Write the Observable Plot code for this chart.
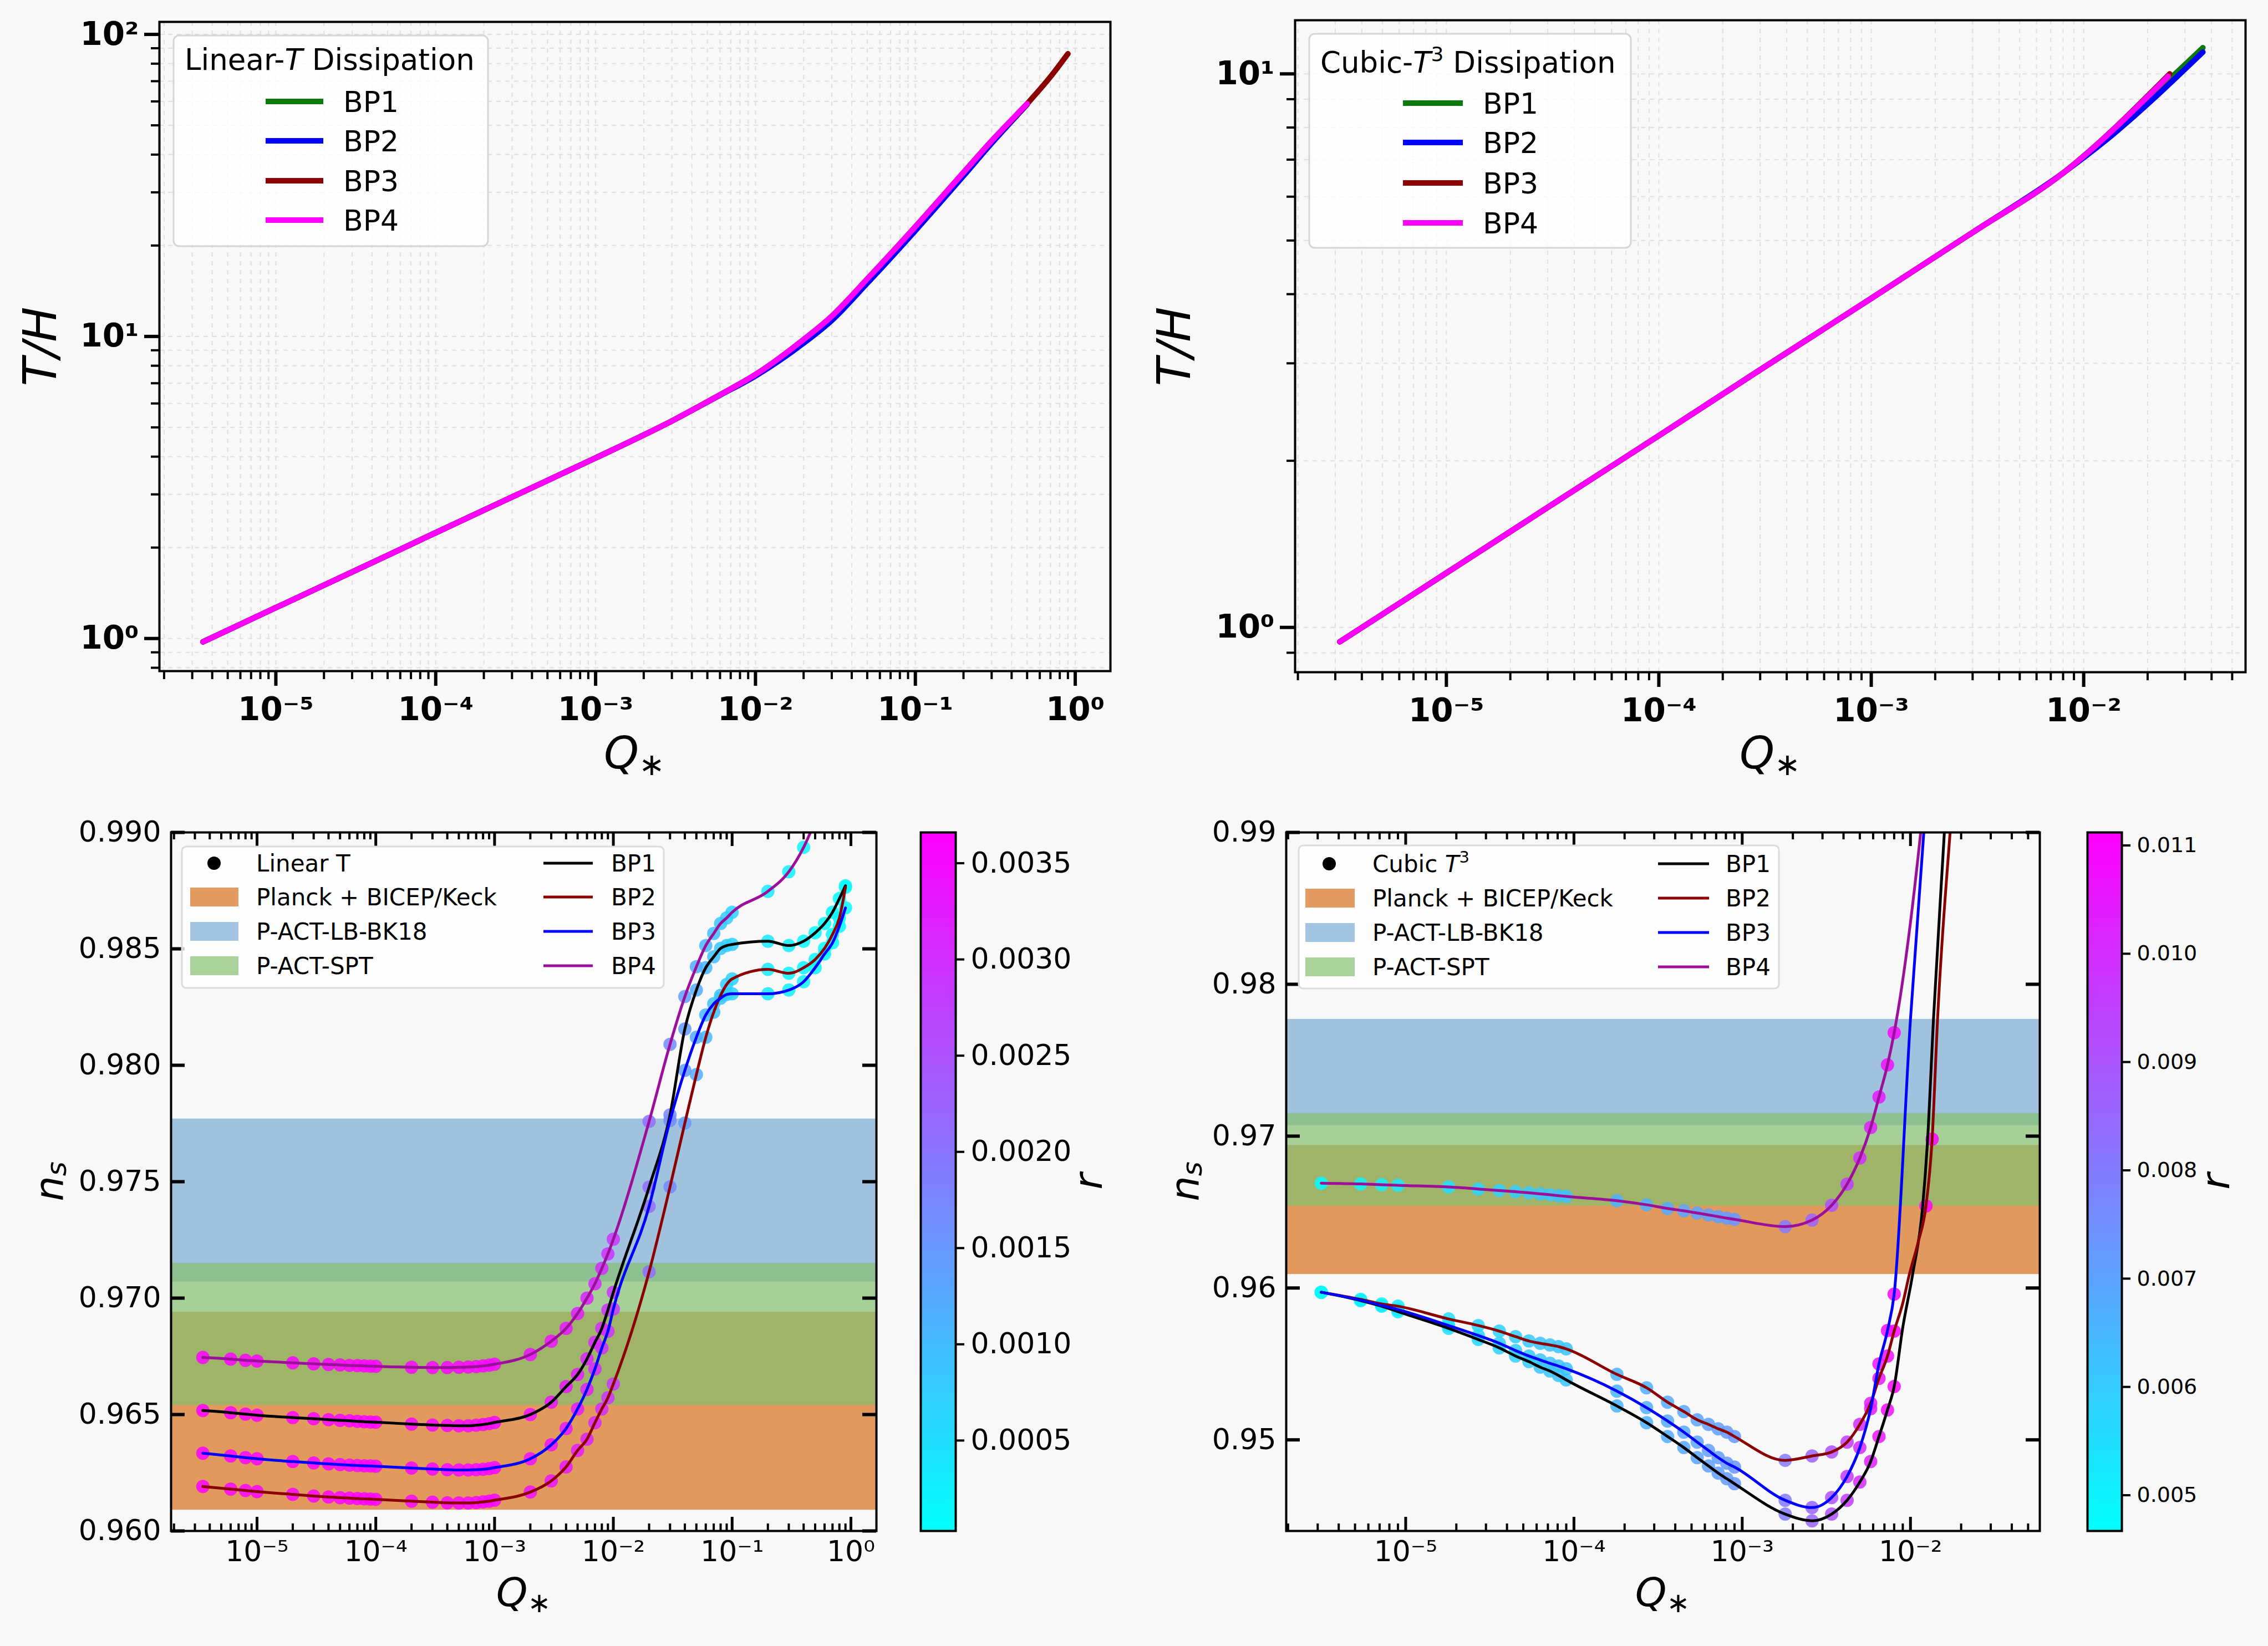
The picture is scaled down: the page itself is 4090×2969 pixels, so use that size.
<!DOCTYPE html>
<html><head><meta charset="utf-8">
<script src="https://cdn.jsdelivr.net/npm/d3@7"></script>
<script src="https://cdn.jsdelivr.net/npm/@observablehq/plot@0.6"></script>
<style>
html,body{margin:0;padding:0;background:#f8f8f8;}
#fig{position:relative;width:4090px;height:2969px;background:#f8f8f8;font-family:"DejaVu Sans",sans-serif;overflow:hidden;}
#overlay{position:absolute;left:0;top:0;pointer-events:none;}
</style></head><body><div id="fig"></div>
<script>
// ================= DATA =================
// --- Top-left: Linear-T dissipation, T/H vs Q* ---
const linTopQ   = [3.5e-6, 1e-5, 3e-5, 1e-4, 3e-4, 1e-3, 3e-3, 6e-3, 1e-2, 2e-2, 3e-2, 5e-2, 0.1, 0.2, 0.3, 0.5];
const linTopQ3  = [3.5e-6, 1e-5, 3e-5, 1e-4, 3e-4, 1e-3, 3e-3, 6e-3, 1e-2, 2e-2, 3e-2, 5e-2, 0.1, 0.2, 0.3, 0.5, 0.7, 0.9];
const linTH_BP1 = [0.975, 1.265, 1.66, 2.24, 2.94, 3.96, 5.25, 6.41, 7.46, 9.70, 11.55, 15.3, 22.8, 34.6, 44.1, 58.8];
const linTH_BP2 = [0.975, 1.265, 1.66, 2.24, 2.94, 3.96, 5.25, 6.39, 7.40, 9.50, 11.30, 15.0, 22.4, 34.0, 43.6, 58.6];
const linTH_BP3 = [0.975, 1.265, 1.66, 2.24, 2.94, 3.96, 5.25, 6.41, 7.48, 9.77, 11.67, 15.5, 23.1, 34.9, 44.4, 58.9, 72.4, 86.3];
const linTH_BP4 = [0.975, 1.265, 1.66, 2.24, 2.94, 3.96, 5.25, 6.41, 7.48, 9.77, 11.67, 15.5, 23.1, 34.9, 44.4, 58.9];

// --- Top-right: Cubic-T^3 dissipation, T/H vs Q* ---
const cubTopQ_BP1 = [3.15e-6, 1e-5, 3e-5, 1e-4, 3e-4, 1e-3, 3e-3, 8e-3, 0.013, 0.0364];
const cubTopQ_BP2 = [3.15e-6, 1e-5, 3e-5, 1e-4, 3e-4, 1e-3, 3e-3, 8e-3, 0.0129, 0.0364];
const cubTopQ_BP3 = [3.15e-6, 1e-5, 3e-5, 1e-4, 3e-4, 1e-3, 3e-3, 8e-3, 0.0254];
const cubTopQ_BP4 = [3.15e-6, 1e-5, 3e-5, 1e-4, 3e-4, 1e-3, 3e-3, 8e-3, 0.025];
const cubTH_BP1 = [0.942, 1.254, 1.648, 2.22, 2.92, 3.93, 5.17, 6.62, 7.75, 11.15];
const cubTH_BP2 = [0.942, 1.254, 1.648, 2.22, 2.92, 3.93, 5.17, 6.62, 7.62, 10.95];
const cubTH_BP3 = [0.942, 1.254, 1.648, 2.22, 2.92, 3.93, 5.17, 6.62, 10.0];
const cubTH_BP4 = [0.942, 1.254, 1.648, 2.22, 2.92, 3.93, 5.17, 6.62, 9.9];

// --- Bottom-left: Linear T, n_s vs Q*, colour = r ---
const linQ = [3.5e-6, 6e-6, 8e-6, 1e-5,
  2e-5, 3e-5, 4e-5, 5e-5, 6e-5, 7e-5, 8e-5, 9e-5, 1e-4,
  2e-4, 3e-4, 4e-4, 5e-4, 6e-4, 7e-4, 8e-4, 9e-4, 1e-3,
  2e-3, 3e-3, 4e-3, 5e-3, 6e-3, 7e-3, 8e-3, 9e-3, 1e-2,
  2e-2, 3e-2, 4e-2, 5e-2, 6e-2, 7e-2, 8e-2, 9e-2, 0.1,
  0.2, 0.3, 0.4, 0.5, 0.6, 0.7, 0.8, 0.9];
const linNs_BP1 = [0.96517, 0.96508, 0.96502, 0.96497,
  0.96487, 0.96482, 0.96478, 0.96475, 0.96473, 0.96471, 0.96469, 0.96468, 0.96467,
  0.96459, 0.96455, 0.96453, 0.96452, 0.96452, 0.96454, 0.96457, 0.96461, 0.96466,
  0.96500, 0.96553, 0.96620, 0.96672, 0.96739, 0.96810, 0.96870, 0.96949, 0.97025,
  0.97477, 0.97787, 0.98156, 0.98323, 0.98419, 0.98466, 0.98502, 0.98514, 0.98519,
  0.98533, 0.98514, 0.98533, 0.98569, 0.98609, 0.98657, 0.98716, 0.98771];
const linNs_BP2 = [0.96191, 0.96180, 0.96174, 0.96169,
  0.96157, 0.96150, 0.96146, 0.96143, 0.96141, 0.96139, 0.96138, 0.96137, 0.96136,
  0.96128, 0.96124, 0.96121, 0.96120, 0.96120, 0.96122, 0.96125, 0.96128, 0.96132,
  0.96167, 0.96215, 0.96275, 0.96346, 0.96394, 0.96465, 0.96524, 0.96572, 0.96631,
  0.97113, 0.97478, 0.97752, 0.97960, 0.98120, 0.98228, 0.98300, 0.98347, 0.98371,
  0.98412, 0.98395, 0.98419, 0.98454, 0.98502, 0.98562, 0.98633, 0.98764];
const linNs_BP3 = [0.96334, 0.96322, 0.96315, 0.96310,
  0.96298, 0.96292, 0.96288, 0.96285, 0.96283, 0.96281, 0.96280, 0.96279, 0.96278,
  0.96270, 0.96266, 0.96263, 0.96262, 0.96262, 0.96263, 0.96265, 0.96268, 0.96272,
  0.96310, 0.96370, 0.96440, 0.96524, 0.96608, 0.96696, 0.96786, 0.96858, 0.96953,
  0.97394, 0.97763, 0.97978, 0.98120, 0.98216, 0.98264, 0.98288, 0.98304, 0.98307,
  0.98307, 0.98323, 0.98359, 0.98419, 0.98478, 0.98526, 0.98597, 0.98676];
const linNs_BP4 = [0.96745, 0.96738, 0.96733, 0.96730,
  0.96722, 0.96718, 0.96715, 0.96713, 0.96711, 0.96710, 0.96709, 0.96708, 0.96707,
  0.96703, 0.96702, 0.96702, 0.96703, 0.96704, 0.96706, 0.96709, 0.96712, 0.96716,
  0.96758, 0.96815, 0.96870, 0.96934, 0.97000, 0.97062, 0.97128, 0.97190, 0.97253,
  0.97759, 0.98090, 0.98295, 0.98423, 0.98514, 0.98566, 0.98609, 0.98633, 0.98657,
  0.98747, 0.98831, 0.98936, 0.99050, 0.99160, 0.99270, 0.99380, 0.99500];
const linR = [0.00363, 0.00362, 0.00362, 0.00362,
  0.00361, 0.00361, 0.00360, 0.00360, 0.00360, 0.00360, 0.00360, 0.00359, 0.00359,
  0.00358, 0.00357, 0.00356, 0.00356, 0.00355, 0.00354, 0.00354, 0.00353, 0.00352,
  0.00345, 0.00340, 0.00333, 0.00326, 0.00318, 0.00310, 0.00302, 0.00294, 0.00286,
  0.00210, 0.00170, 0.00142, 0.00122, 0.00106, 0.00093, 0.00083, 0.00074, 0.00067,
  0.00035, 0.00024, 0.00018, 0.00014, 0.00011, 0.00009, 0.00008, 0.00007];

// --- Bottom-right: Cubic T^3, n_s vs Q*, colour = r ---
const cubQ = [3.15e-6, 5.4e-6, 7.2e-6, 9e-6,
  1.8e-5, 2.7e-5, 3.6e-5, 4.5e-5, 5.4e-5, 6.3e-5, 7.2e-5, 8.1e-5, 9e-5,
  1.8e-4, 2.7e-4, 3.6e-4, 4.5e-4, 5.4e-4, 6.3e-4, 7.2e-4, 8.1e-4, 9e-4,
  1.8e-3, 2.6e-3, 3.4e-3, 4.2e-3, 5.0e-3, 5.8e-3, 6.5e-3, 7.3e-3, 8.0e-3];
const cubNs_BP1 = [0.95972, 0.95917, 0.95880, 0.95844,
  0.95734, 0.95661, 0.95606, 0.95552, 0.95515, 0.95479, 0.95453, 0.95424, 0.95395,
  0.95223, 0.95113, 0.95022, 0.94949, 0.94883, 0.94828, 0.94781, 0.94744, 0.94711,
  0.94511, 0.94467, 0.94511, 0.94602, 0.94722, 0.94857, 0.95022, 0.95197, 0.95351];
const cubNs_BP2 = [0.95972, 0.95925, 0.95895, 0.95880,
  0.95796, 0.95753, 0.95716, 0.95680, 0.95651, 0.95636, 0.95625, 0.95614, 0.95599,
  0.95431, 0.95343, 0.95248, 0.95186, 0.95132, 0.95102, 0.95073, 0.95051, 0.95022,
  0.94865, 0.94894, 0.94920, 0.94985, 0.95102, 0.95241, 0.95405, 0.95552, 0.95716];
const cubNs_BP3 = [0.95972, 0.95920, 0.95885, 0.95858,
  0.95753, 0.95687, 0.95636, 0.95588, 0.95552, 0.95526, 0.95504, 0.95486, 0.95468,
  0.95321, 0.95212, 0.95124, 0.95051, 0.94985, 0.94930, 0.94883, 0.94846, 0.94821,
  0.94602, 0.94554, 0.94620, 0.94759, 0.94949, 0.95205, 0.95500, 0.95720, 0.95960];
const cubNs_BP4 = [0.96690, 0.96685, 0.96680, 0.96676,
  0.96665, 0.96652, 0.96642, 0.96634, 0.96627, 0.96620, 0.96614, 0.96608, 0.96603,
  0.96575, 0.96548, 0.96524, 0.96508, 0.96494, 0.96481, 0.96470, 0.96460, 0.96452,
  0.96404, 0.96447, 0.96545, 0.96684, 0.96856, 0.97057, 0.97258, 0.97469, 0.97681];
const cubR = [0.0048, 0.0050, 0.0051, 0.0052,
  0.0055, 0.0057, 0.0058, 0.0059, 0.0060, 0.0061, 0.0061, 0.0062, 0.0062,
  0.0066, 0.0067, 0.0068, 0.0069, 0.0070, 0.0071, 0.0071, 0.0072, 0.0073,
  0.0080, 0.0086, 0.0091, 0.0096, 0.0100, 0.0103, 0.0106, 0.0108, 0.0110];
// steep continuation of the curves beyond the sampled markers
const cubTailQ_BP1  = [9.0e-3, 1.03e-2, 1.18e-2, 1.26e-2, 1.37e-2, 1.59e-2, 1.75e-2];
const cubTailNs_BP1 = [0.9574, 0.9609, 0.9653, 0.9695, 0.9777, 0.9900, 0.9980];
const cubTailQ_BP2  = [9.0e-3, 9.85e-3, 1.11e-2, 1.236e-2, 1.345e-2, 1.45e-2, 1.72e-2, 1.9e-2];
const cubTailNs_BP2 = [0.9590, 0.9609, 0.9630, 0.9654, 0.9698, 0.9778, 0.9900, 0.9960];
const cubTailQ_BP3  = [1.0e-2, 1.2e-2, 1.3e-2];
const cubTailNs_BP3 = [0.9777, 0.9900, 0.9950];
const cubTailQ_BP4  = [1.15e-2, 1.25e-2];
const cubTailNs_BP4 = [0.9900, 0.9940];
const cubExtraQ  = [1.236e-2, 1.345e-2];
const cubExtraNs = [0.9654, 0.9698];
const cubExtraR  = [0.0111, 0.0111];

// --- Observational n_s bands ---
const bandNames = ["Planck + BICEP/Keck", "P-ACT-LB-BK18", "P-ACT-SPT"];
const bandLo = [0.9609, 0.9707, 0.9654];
const bandHi = [0.9694, 0.9777, 0.9715];

// --- Tick values ---
const topLeftXTicks  = [1e-5, 1e-4, 1e-3, 1e-2, 1e-1, 1];
const topLeftYTicks  = [1, 10, 100];
const topRightXTicks = [1e-5, 1e-4, 1e-3, 1e-2];
const topRightYTicks = [1, 10];
const botLeftXTicks  = [1e-5, 1e-4, 1e-3, 1e-2, 1e-1, 1];
const botLeftYTicks  = [0.960, 0.965, 0.970, 0.975, 0.980, 0.985, 0.990];
const botRightXTicks = [1e-5, 1e-4, 1e-3, 1e-2];
const botRightYTicks = [0.95, 0.96, 0.97, 0.98, 0.99];
const linRTicks = [0.0005, 0.0010, 0.0015, 0.0020, 0.0025, 0.0030, 0.0035];
const cubRTicks = [0.005, 0.006, 0.007, 0.008, 0.009, 0.010, 0.011];
const bpNames = ["BP1", "BP2", "BP3", "BP4"];

// ================= STYLE =================
const topColors = ["#0b7a0b", "#0000ff", "#8b0000", "#ff00ff"];
const botColors = ["#000000", "#8b0000", "#0000ff", "#9b0f9b"];
const bandFill  = ["#d97929", "#659ecd", "#84bf6f"];
const bandAlpha = [0.75, 0.6, 0.7];
const FONT = "DejaVu Sans";

// ================= HELPERS =================
const fig = document.getElementById("fig");
function place(el, left, top) {
  el.style.position = "absolute"; el.style.left = left + "px"; el.style.top = top + "px";
  fig.appendChild(el);
}
const SUP = {"-": "\u207B", "0": "\u2070", "1": "\u00B9", "2": "\u00B2", "3": "\u00B3", "4": "\u2074", "5": "\u2075", "6": "\u2076", "7": "\u2077", "8": "\u2078", "9": "\u2079"};
const pow10 = v => "10" + String(Math.round(Math.log10(v))).split("").map(c => SUP[c]).join("");
function minorLog(dom) {
  const out = [];
  for (let e = Math.floor(Math.log10(dom[0])); e <= Math.ceil(Math.log10(dom[1])); e++)
    for (let m = 2; m <= 9; m++) { const v = m * Math.pow(10, e); if (v >= dom[0] && v <= dom[1]) out.push(v); }
  return out;
}
const zip = (q, v, r) => q.map((d, i) => ({q: d, v: v[i], r: r ? r[i] : null}));

// ================= TOP PANELS =================
function topPanel(o) {
  const xMin = minorLog(o.xDom), yMin = minorLog(o.yDom);
  return Plot.plot({
    width: o.W, height: o.H, marginLeft: o.mL, marginRight: o.mR, marginTop: o.mT, marginBottom: o.mB,
    style: {background: "transparent", fontFamily: FONT, fontSize: "58px", fontWeight: "bold", overflow: "visible"},
    x: {type: "log", domain: o.xDom, label: null},
    y: {type: "log", domain: o.yDom, label: null},
    marks: [
      Plot.ruleX([...o.xMaj, ...xMin], {x: d => d, stroke: "#e0e0e0", strokeWidth: 2, strokeDasharray: "8,8"}),
      Plot.ruleY([...o.yMaj, ...yMin], {y: d => d, stroke: "#e0e0e0", strokeWidth: 2, strokeDasharray: "8,8"}),
      ...o.series.map((s, i) => Plot.line(zip(s.q, s.v), {x: "q", y: "v", stroke: topColors[i], strokeWidth: 10, curve: "monotone-x"})),
      Plot.frame({stroke: "black", strokeWidth: 4}),
      Plot.axisX(o.xMaj, {anchor: "bottom", tickSize: 27, tickPadding: 20, strokeWidth: 6, tickFormat: pow10, fontSize: 58, fontWeight: "bold", label: null}),
      Plot.axisX(xMin, {anchor: "bottom", tickSize: 15, strokeWidth: 4, tickFormat: () => "", label: null}),
      Plot.axisY(o.yMaj, {anchor: "left", tickSize: 27, tickPadding: 10, strokeWidth: 6, tickFormat: pow10, fontSize: 58, fontWeight: "bold", label: null}),
      Plot.axisY(yMin, {anchor: "left", tickSize: 15, strokeWidth: 4, tickFormat: () => "", label: null})
    ]
  });
}

place(topPanel({
  W: 2045, H: 1400, mL: 287, mR: 43, mT: 39, mB: 190,
  xDom: [1.87e-6, 1.66], yDom: [0.78, 110], xMaj: topLeftXTicks, yMaj: topLeftYTicks,
  series: [{q: linTopQ, v: linTH_BP1}, {q: linTopQ, v: linTH_BP2}, {q: linTopQ3, v: linTH_BP3}, {q: linTopQ, v: linTH_BP4}]
}), 0, 0);

place(topPanel({
  W: 2045, H: 1400, mL: 290, mR: 41, mT: 36, mB: 188,
  xDom: [1.94e-6, 0.0578], yDom: [0.83, 12.5], xMaj: topRightXTicks, yMaj: topRightYTicks,
  series: [{q: cubTopQ_BP1, v: cubTH_BP1}, {q: cubTopQ_BP2, v: cubTH_BP2}, {q: cubTopQ_BP3, v: cubTH_BP3}, {q: cubTopQ_BP4, v: cubTH_BP4}]
}), 2045, 0);

// ================= BOTTOM PANELS =================
const cool = ["#00ffff", "#ff00ff"];
function bottomPanel(o) {
  const iH = o.H - o.mT - o.mB, iW = o.W - o.mL - o.mR;
  const xMin = minorLog(o.xDom);
  const bands = bandLo.map((lo, i) => ({lo, hi: bandHi[i], i}));
  return Plot.plot({
    width: o.W, height: o.H, marginLeft: o.mL, marginRight: o.mR, marginTop: o.mT, marginBottom: o.mB,
    style: {background: "transparent", fontFamily: FONT, fontSize: "52px", overflow: "visible"},
    x: {type: "log", domain: o.xDom, label: null},
    y: {domain: o.yDom, label: null},
    color: {type: "linear", domain: o.rDom, range: cool, interpolate: "rgb"},
    marks: [
      ...bands.map(b => Plot.rect([b], {x1: () => o.xDom[0], x2: () => o.xDom[1], y1: "lo", y2: "hi", fill: bandFill[b.i], fillOpacity: bandAlpha[b.i]})),
      ...o.dots.map(d => Plot.dot(d, {x: "q", y: "v", fill: "r", r: 12, fillOpacity: 0.85, clip: true})),
      ...o.lines.map((l, i) => Plot.line(l, {x: "q", y: "v", stroke: botColors[i], strokeWidth: 5, curve: "monotone-x", clip: true})),
      Plot.frame({stroke: "black", strokeWidth: 4}),
      Plot.ruleX(o.xMaj, {x: d => d, insetTop: iH - 25, stroke: "black", strokeWidth: 5}),
      Plot.ruleX(xMin, {x: d => d, insetTop: iH - 13, stroke: "black", strokeWidth: 4}),
      Plot.ruleX(o.xMaj, {x: d => d, insetBottom: iH - 25, stroke: "black", strokeWidth: 5}),
      Plot.ruleX(xMin, {x: d => d, insetBottom: iH - 13, stroke: "black", strokeWidth: 4}),
      Plot.ruleY(o.yMaj, {y: d => d, insetRight: iW - 25, stroke: "black", strokeWidth: 6}),
      Plot.ruleY(o.yMaj, {y: d => d, insetLeft: iW - 25, stroke: "black", strokeWidth: 6}),
      Plot.axisX(o.xMaj, {anchor: "bottom", tickSize: 0, tickPadding: 18, tickFormat: pow10, fontSize: 52, label: null}),
      Plot.axisY(o.yMaj, {anchor: "left", tickSize: 0, tickPadding: 18, tickFormat: d3.format(o.yFmt), fontSize: 52, label: null})
    ]
  });
}

const linDots = [zip(linQ, linNs_BP1, linR), zip(linQ, linNs_BP2, linR), zip(linQ, linNs_BP3, linR), zip(linQ, linNs_BP4, linR)];
place(bottomPanel({
  W: 1640, H: 1569, mL: 308, mR: 60, mT: 101, mB: 208,
  xDom: [1.89e-6, 1.64], yDom: [0.960, 0.990], rDom: [0.00003, 0.00366], yFmt: ".3f",
  xMaj: botLeftXTicks, yMaj: botLeftYTicks,
  dots: linDots, lines: linDots
}), 0, 1400);

const cubDots = [zip(cubQ, cubNs_BP1, cubR), zip(cubQ, cubNs_BP2, cubR), zip(cubQ, cubNs_BP3, cubR), zip(cubQ, cubNs_BP4, cubR), zip(cubExtraQ, cubExtraNs, cubExtraR)];
const cubLines = [
  zip(cubQ.concat(cubTailQ_BP1), cubNs_BP1.concat(cubTailNs_BP1)),
  zip(cubQ.concat(cubTailQ_BP2), cubNs_BP2.concat(cubTailNs_BP2)),
  zip(cubQ.concat(cubTailQ_BP3), cubNs_BP3.concat(cubTailNs_BP3)),
  zip(cubQ.concat(cubTailQ_BP4), cubNs_BP4.concat(cubTailNs_BP4))
];
place(bottomPanel({
  W: 1680, H: 1569, mL: 274, mR: 47, mT: 101, mB: 208,
  xDom: [1.95e-6, 0.0587], yDom: [0.944, 0.990], rDom: [0.00467, 0.01112], yFmt: ".2f",
  xMaj: botRightXTicks, yMaj: botRightYTicks,
  dots: cubDots, lines: cubLines
}), 2045, 1400);

// ================= COLORBARS =================
function colorbar(o) {
  const n = 240;
  const slices = d3.range(n).map(i => ({a: o.dom[0] + (o.dom[1] - o.dom[0]) * i / n, b: o.dom[0] + (o.dom[1] - o.dom[0]) * (i + 1) / n}));
  return Plot.plot({
    width: o.W, height: o.H, marginLeft: o.mL, marginRight: o.mR, marginTop: 101, marginBottom: 208,
    style: {background: "transparent", fontFamily: FONT, fontSize: o.fs + "px", overflow: "visible"},
    x: {domain: [0, 1], axis: null},
    y: {domain: o.dom, label: null},
    color: {type: "linear", domain: o.dom, range: cool, interpolate: "rgb"},
    marks: [
      Plot.rect(slices, {x1: () => 0, x2: () => 1, y1: "a", y2: "b", fill: d => (d.a + d.b) / 2, stroke: d => (d.a + d.b) / 2, strokeWidth: 1}),
      Plot.frame({stroke: "black", strokeWidth: 4}),
      Plot.axisY(o.ticks, {anchor: "right", tickSize: 15, tickPadding: 12, strokeWidth: 4, tickFormat: d3.format(o.fmt), fontSize: o.fs, label: null})
    ]
  });
}
place(colorbar({W: 450, H: 1569, mL: 60, mR: 327, dom: [0.00003, 0.00366], ticks: linRTicks, fmt: ".4f", fs: 52}), 1600, 1400);
place(colorbar({W: 365, H: 1569, mL: 39, mR: 264, dom: [0.00467, 0.01112], ticks: cubRTicks, fmt: ".3f", fs: 38}), 3725, 1400);

// ================= OVERLAY: axis titles & legends =================
let s = "";
const qstar = (x, y, fs) => `<text x="${x}" y="${y}" text-anchor="middle" font-size="${fs}"><tspan font-style="italic">Q</tspan><tspan font-size="${Math.round(fs*0.7)}" dy="${Math.round(fs*0.15)}">\u2217</tspan></text>`;
const rot = (x, y, inner, fs) => `<text transform="translate(${x},${y}) rotate(-90)" text-anchor="middle" dominant-baseline="central" font-size="${fs}">${inner}</text>`;
s += rot(72, 625, `<tspan font-style="italic">T/H</tspan>`, 84);
s += rot(2117, 625, `<tspan font-style="italic">T/H</tspan>`, 84);
s += qstar(1144, 1386, 80);
s += qstar(3192, 1386, 80);
const ns = `<tspan font-style="italic">n</tspan><tspan font-style="italic" font-size="50" dy="14">s</tspan>`;
s += rot(88, 2131, ns, 72);
s += rot(2136, 2131, ns, 72);
s += qstar(944, 2897, 72);
s += qstar(2998, 2897, 72);
s += rot(1962, 2131, `<tspan font-style="italic">r</tspan>`, 72);
s += rot(3995, 2131, `<tspan font-style="italic">r</tspan>`, 72);

function topLegend(bx, by, bw, bh, titleX, titleY, title, lx1, lx2, tx, rows) {
  let t = `<rect x="${bx}" y="${by}" width="${bw}" height="${bh}" rx="10" fill="#ffffff" fill-opacity="0.8" stroke="#d6d6d6" stroke-width="3"/>`;
  t += `<text x="${titleX}" y="${titleY}" font-size="53">${title}</text>`;
  rows.forEach((yy, i) => {
    t += `<line x1="${lx1}" x2="${lx2}" y1="${yy}" y2="${yy}" stroke="${topColors[i]}" stroke-width="10"/>`;
    t += `<text x="${tx}" y="${yy + 19}" font-size="52">${bpNames[i]}</text>`;
  });
  return t;
}
s += topLegend(313, 64, 567, 380, 333, 126, `Linear-<tspan font-style="italic">T</tspan> Dissipation`, 479, 583, 619, [183, 254, 326, 397]);
s += topLegend(2361, 61, 580, 386, 2381, 131, `Cubic-<tspan font-style="italic">T</tspan><tspan font-size="36" dy="-21">3</tspan><tspan dy="21"> Dissipation</tspan>`, 2530, 2638, 2674, [186, 257, 330, 402]);

function botLegend(bx, by, bw, bh, mx, px1, px2, tx, lx1, lx2, tx2, rows, first) {
  let t = `<rect x="${bx}" y="${by}" width="${bw}" height="${bh}" rx="8" fill="#ffffff" fill-opacity="0.8" stroke="#dcdcdc" stroke-width="3"/>`;
  t += `<circle cx="${mx}" cy="${rows[0]}" r="12" fill="black"/>`;
  t += `<text x="${tx}" y="${rows[0] + 15}" font-size="42">${first}</text>`;
  bandNames.forEach((nm, i) => {
    const yy = rows[i + 1];
    t += `<rect x="${px1}" y="${yy - 17}" width="${px2 - px1}" height="34" fill="${bandFill[i]}" fill-opacity="${bandAlpha[i]}"/>`;
    t += `<text x="${tx}" y="${yy + 15}" font-size="42">${nm}</text>`;
  });
  rows.forEach((yy, i) => {
    t += `<line x1="${lx1}" x2="${lx2}" y1="${yy}" y2="${yy}" stroke="${botColors[i]}" stroke-width="5"/>`;
    t += `<text x="${tx2}" y="${yy + 15}" font-size="42">${bpNames[i]}</text>`;
  });
  return t;
}
s += botLegend(328, 1527, 869, 255, 386, 343, 430, 462, 980, 1069, 1102, [1557, 1618, 1680, 1742], "Linear T");
s += botLegend(2342, 1525, 866, 258, 2397, 2354, 2443, 2475, 2990, 3082, 3112, [1558, 1620, 1682, 1744],
  `Cubic <tspan font-style="italic">T</tspan><tspan font-size="29" dy="-17">3</tspan>`);

const ov = document.createElement("div");
ov.id = "overlay";
ov.innerHTML = `<svg xmlns="http://www.w3.org/2000/svg" width="4090" height="2969" font-family="DejaVu Sans" fill="black">${s}</svg>`;
fig.appendChild(ov);
</script></body></html>
